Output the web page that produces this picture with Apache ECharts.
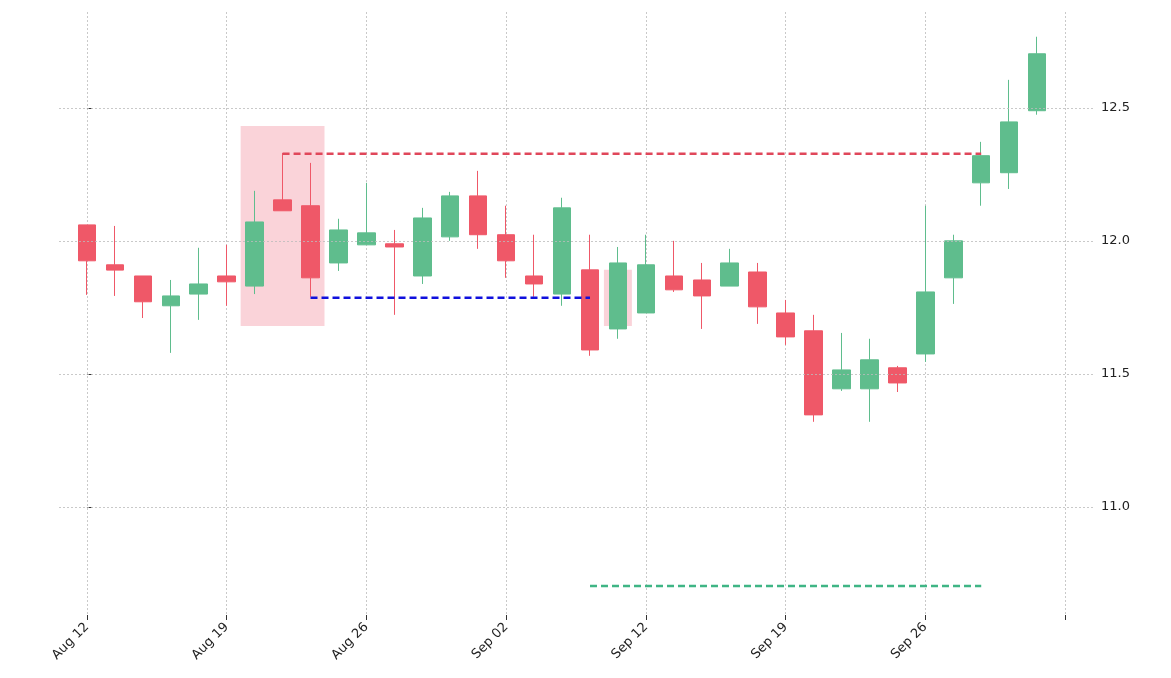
<!DOCTYPE html>
<html><head><meta charset="utf-8">
<script src="https://cdn.jsdelivr.net/npm/echarts@6/dist/echarts.min.js"></script>
<style>html,body{margin:0;padding:0;background:#fff}#c{width:1171px;height:678px}</style>
</head><body><div id="c"></div>
<script>
const dates = ['Aug 12','Aug 13','Aug 14','Aug 15','Aug 16','Aug 19','Aug 20','Aug 21','Aug 22','Aug 23',
 'Aug 26','Aug 27','Aug 28','Aug 29','Aug 30','Sep 02','Sep 03','Sep 04','Sep 05','Sep 06',
 'Sep 12','Sep 13','Sep 16','Sep 17','Sep 18','Sep 19','Sep 20','Sep 23','Sep 24','Sep 25',
 'Sep 26','Sep 27','Sep 30','Oct 01','Oct 02'];
const opens  = [12.06,11.91,11.868,11.756,11.80,11.868,11.83,12.154,12.132,11.917,11.985,11.989,11.868,12.015,12.169,12.023,11.868,11.80,11.891,11.669,11.729,11.868,11.853,11.83,11.883,11.729,11.662,11.444,11.444,11.523,11.575,11.861,12.218,12.256,12.489];
const closes = [11.925,11.89,11.771,11.793,11.838,11.846,12.071,12.113,11.861,12.041,12.03,11.977,12.086,12.169,12.023,11.925,11.838,12.124,11.59,11.917,11.91,11.816,11.793,11.917,11.752,11.639,11.346,11.515,11.553,11.466,11.808,12.0,12.32,12.447,12.703];
const lows   = [11.797,11.793,11.71,11.579,11.703,11.756,11.80,12.113,11.79,11.887,11.985,11.722,11.838,12.0,11.97,11.861,11.79,11.756,11.568,11.632,11.729,11.808,11.669,11.83,11.688,11.609,11.32,11.436,11.32,11.432,11.545,11.763,12.132,12.195,12.474];
const highs  = [12.06,12.056,11.868,11.853,11.974,11.985,12.188,12.33,12.293,12.083,12.218,12.041,12.124,12.184,12.263,12.132,12.023,12.162,12.023,11.977,12.023,12.0,11.917,11.97,11.917,11.778,11.722,11.654,11.632,11.53,12.132,12.023,12.372,12.605,12.767];
const yTicks = [11.0,11.5,12.0,12.5];
const resistance = {value:12.327, from:7, to:32};
const support = {value:11.786, from:8, to:18};
const target = {value:10.703, from:18, to:32};
const zone1 = {x0:5.5,x1:8.5,y0:11.68,y1:12.432};
const zone2 = {x0:18.5,x1:19.5,y0:11.68,y1:11.891};

const cats = [''].concat(dates, ['', '']);
const candle = ['-'].concat(dates.map((d,i)=>[opens[i],closes[i],lows[i],highs[i]]), ['-','-']);
const tickInt = (idx)=> idx>=1 && (idx-1)%5===0 && idx<=36;
const font = 'DejaVu Sans';
const chart = echarts.init(document.getElementById('c'));
function hline(o,color){
  return {type:'line',xAxisIndex:1,yAxisIndex:0,symbol:'none',z:5,
    data:[[o.from,o.value],[o.to,o.value]],lineStyle:{color:color,width:2.5,type:[7,4]}};
}
chart.setOption({
  animation:false,
  grid:{left:59,right:78,top:12,bottom:63},
  xAxis:[{type:'category',data:cats,boundaryGap:false,
    axisLine:{show:false},
    axisTick:{interval:tickInt,length:5,lineStyle:{color:'#333'}},
    axisLabel:{interval:tickInt,rotate:45,fontFamily:font,fontSize:13,color:'#222',margin:10},
    splitLine:{show:true,interval:tickInt,lineStyle:{color:'#bbb',type:[2,2],width:0.8}}},
   {type:'value',min:-1,max:36,show:false}],
  yAxis:{type:'value',position:'right',min:10.594,max:12.86,
    axisLine:{show:false},splitLine:{show:false},
    axisTick:{show:true,customValues:yTicks,length:5,lineStyle:{color:'#333'}},
    axisLabel:{customValues:yTicks,formatter:v=>v.toFixed(1),fontFamily:font,fontSize:13,color:'#222',margin:8}},
  series:[
    {type:'line',xAxisIndex:1,data:[[0,11]],symbol:'none',lineStyle:{opacity:0},
      markLine:{silent:true,symbol:'none',label:{show:false},
        lineStyle:{color:'#bbb',type:[2,2],width:0.8},
        data:yTicks.map(v=>({yAxis:v}))}},
    {type:'candlestick',data:candle,barWidth:18,z:3,
      itemStyle:{color:'#5fbd8d',color0:'#ef5868',borderColor:'#5fbd8d',borderColor0:'#ef5868',borderWidth:1}},
    {type:'line',xAxisIndex:1,data:[[0,11]],symbol:'none',z:4,lineStyle:{opacity:0},
      markArea:{silent:true,itemStyle:{color:'rgba(240,130,145,0.35)'},
        data:[[{coord:[zone1.x0,zone1.y1]},{coord:[zone1.x1,zone1.y0]}],
              [{coord:[zone2.x0,zone2.y1]},{coord:[zone2.x1,zone2.y0]}]]}},
    hline(resistance,'#e0475a'),
    hline(support,'#1010dd'),
    hline(target,'#3fb585')
  ]
});
</script></body></html>
